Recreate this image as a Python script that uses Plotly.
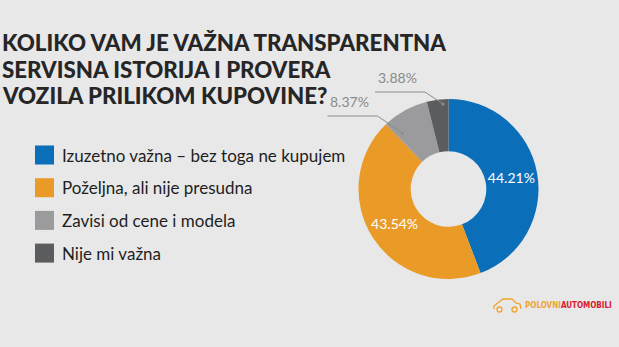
import plotly.graph_objects as go
import math

# ---- data ----
labels = ["Izuzetno važna – bez toga ne kupujem", "Poželjna, ali nije presudna",
          "Zavisi od cene i modela", "Nije mi važna"]
values = [44.21, 43.54, 8.37, 3.88]
colors = ["#0a6fb8", "#ea9b27", "#9b9b9d", "#5b5c5e"]
title_lines = ["KOLIKO VAM JE VAŽNA TRANSPARENTNA", "SERVISNA ISTORIJA I PROVERA",
               "VOZILA PRILIKOM KUPOVINE?"]
inside_flags = [True, True, False, False]

W, H = 619, 347
BG = "#e8e8e8"

def pxx(x):
    return x / W

def pxy(y):
    return 1 - y / H

# pie geometry (pixels)
CX, CY, R = 448.5, 189.0, 90.0
HOLE = 0.42

texts = [f"{v:.2f}%" if f else "" for v, f in zip(values, inside_flags)]

fig = go.Figure()
fig.add_trace(go.Pie(
    labels=labels, values=values, sort=False, direction="clockwise", rotation=0,
    hole=HOLE, marker=dict(colors=colors, line=dict(width=0)),
    text=texts, textinfo="text", textposition="inside",
    insidetextorientation="horizontal",
    textfont=dict(family="Lato", size=14, color="white"),
    domain=dict(x=[pxx(CX - R), pxx(CX + R)], y=[pxy(CY + R), pxy(CY - R)]),
    showlegend=False, hoverinfo="label+percent",
))

shapes = []
annotations = []

# title (one annotation per line for tight line spacing)
for i, line in enumerate(title_lines):
    annotations.append(dict(
        text=line, x=pxx(0), y=pxy(43 + i * 26.5), xref="paper", yref="paper",
        xanchor="left", yanchor="middle", align="left", showarrow=False,
        font=dict(family="Lato", size=22.3, color="#262626", weight=900),
    ))

# legend (manual)
row_y0, row_dy = 155.0, 32.7
for i, (lab, col) in enumerate(zip(labels, colors)):
    yc = row_y0 + i * row_dy
    shapes.append(dict(type="rect", xref="paper", yref="paper",
                       x0=pxx(35), x1=pxx(54), y0=pxy(yc + 9.5), y1=pxy(yc - 9.5),
                       fillcolor=col, line=dict(width=0)))
    annotations.append(dict(text=lab, x=pxx(60), y=pxy(yc), xref="paper", yref="paper",
                            xanchor="left", yanchor="middle", showarrow=False,
                            font=dict(family="Lato", size=17, color="#1e1e1e")))

# outside labels with leader lines for small slices
label_offsets = {2: (-25, -17), 3: (-18, -12)}  # elbow offset from dot (px)
dot_offsets = {2: (-46, -56), 3: (-5.5, -85)}
for i, v in enumerate(values):
    if inside_flags[i]:
        continue
    dx_, dy_ = dot_offsets[i]
    dotx, doty = CX + dx_, CY + dy_
    ox, oy = label_offsets[i]
    ex, ey = dotx + ox, doty + oy
    lx = ex - 50
    path = f"M {pxx(dotx)} {pxy(doty)} L {pxx(ex)} {pxy(ey)} L {pxx(lx)} {pxy(ey)}"
    shapes.append(dict(type="path", xref="paper", yref="paper", path=path,
                       line=dict(color="#8c8c8c", width=1)))
    shapes.append(dict(type="circle", xref="paper", yref="paper",
                       x0=pxx(dotx - 1.5), x1=pxx(dotx + 1.5), y0=pxy(doty + 1.5), y1=pxy(doty - 1.5),
                       fillcolor="#8c8c8c", line=dict(width=0)))
    annotations.append(dict(text=f"{v:.2f}%", x=pxx((ex + lx) / 2 - 3), y=pxy(ey - 4),
                            xref="paper", yref="paper", xanchor="center", yanchor="bottom",
                            showarrow=False,
                            font=dict(family="Lato", size=14, color="#8a8a8a")))

# logo
annotations.append(dict(
    text="<b><span style='color:#f0a42c'>POLOVNI</span><span style='color:#d6202a'>AUTOMOBILI</span></b>",
    x=pxx(523), y=pxy(305.5), xref="paper", yref="paper", xanchor="left", yanchor="middle",
    showarrow=False, font=dict(family="DejaVu Sans Condensed, Roboto, sans-serif", size=8)))
car = "M 494 309 L 494 306 L 499 302 L 503 299 L 512 299 L 516 303 L 520 304 L 521 309"
car_p = []
for tok in car.split(" L "):
    tok = tok.replace("M ", "")
    x, y = map(float, tok.split())
    car_p.append(f"{pxx(x)} {pxy(y)}")
shapes.append(dict(type="path", xref="paper", yref="paper",
                   path="M " + " L ".join(car_p), line=dict(color="#f0a42c", width=1.3)))
for wx in (499.5, 514.5):
    shapes.append(dict(type="circle", xref="paper", yref="paper",
                       x0=pxx(wx - 2.5), x1=pxx(wx + 2.5), y0=pxy(312), y1=pxy(307),
                       fillcolor=BG, line=dict(color="#f0a42c", width=1.3)))

fig.update_layout(
    width=W, height=H, margin=dict(l=0, r=0, t=0, b=0),
    paper_bgcolor=BG, plot_bgcolor=BG,
    shapes=shapes, annotations=annotations,
)

fig.write_html("out.html")
